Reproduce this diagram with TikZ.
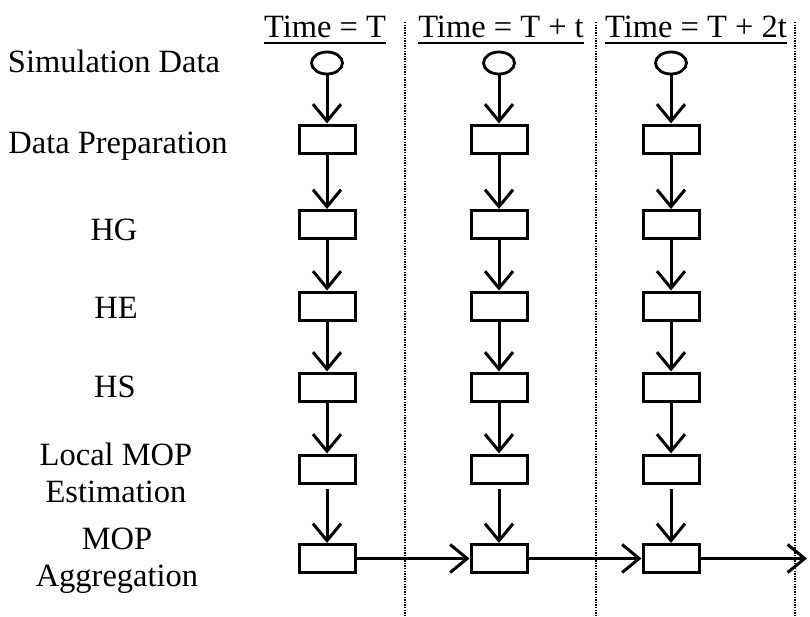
\documentclass[tikz,border=0pt]{standalone}
\usepackage{fontspec}
\setmainfont{Liberation Serif}
\usetikzlibrary{arrows.meta,shapes.geometric}
\begin{document}
\begin{tikzpicture}[x=1pt,y=-1pt,
  stage/.style={draw,line width=3pt,minimum width=56pt,minimum height=28pt,inner sep=0pt},
  source/.style={draw,ellipse,line width=2.8pt,minimum width=31pt,minimum height=22pt,inner sep=0pt},
  flow/.style={line width=3pt,-{Straight Barb[length=17pt,width=28pt]}},
  rowlabel/.style={font=\fontsize{32.5}{37}\selectfont,inner sep=0pt,align=center},
  divider/.style={line width=1.8pt,dash pattern=on 1.3pt off 1.3pt}]
\useasboundingbox (0,0) rectangle (810,616);

% time-step separators
\foreach \x in {405,596,795}
  \draw[divider] (\x,22) -- (\x,616);

% column headers
\foreach \i/\x/\t in {1/325/{Time = T},2/501/{Time = T + t},3/696/{Time = T + 2t}} {
  \node[rowlabel,anchor=base] (h\i) at (\x,37.5) {\t};
  \draw[line width=2pt] ([yshift=-5.5pt]h\i.base west) -- ([yshift=-5.5pt]h\i.base east);
}

% row labels
\node[rowlabel,anchor=base] (l0) at (114,72) {Simulation Data};
\node[rowlabel,anchor=base] (l1) at (118,153) {Data Preparation};
\node[rowlabel,anchor=base] (l2) at (114,240) {HG};
\node[rowlabel,anchor=base] (l3) at (116,318) {HE};
\node[rowlabel,anchor=base] (l4) at (115,397) {HS};
\node[rowlabel] (l5) at (116,472.5) {Local MOP\\Estimation};
\node[rowlabel] (l6) at (117,561) {MOP\\Aggregation};

% processing pipelines, one per time step
\foreach \c/\x in {1/327,2/499,3/671} {
  \node[source] (s\c) at (\x,63) {};
  \foreach \r/\y in {1/139,2/224.5,3/306,4/387,5/469,6/558.5}
    \node[stage] (b\c\r) at (\x,\y) {};
  \draw[flow] (s\c) -- (b\c1);
  \foreach \r/\n in {1/2,2/3,3/4,4/5}
    \draw[flow] (b\c\r) -- (b\c\n);
  \draw[flow,shorten <=4pt] (b\c5) -- (b\c6);
}

% aggregation carried forward in time
\coordinate (out) at (807,558.5);
\draw[flow] (b16) -- (b26);
\draw[flow] (b26) -- (b36);
\draw[flow] (b36) -- (out);
\end{tikzpicture}
\end{document}
